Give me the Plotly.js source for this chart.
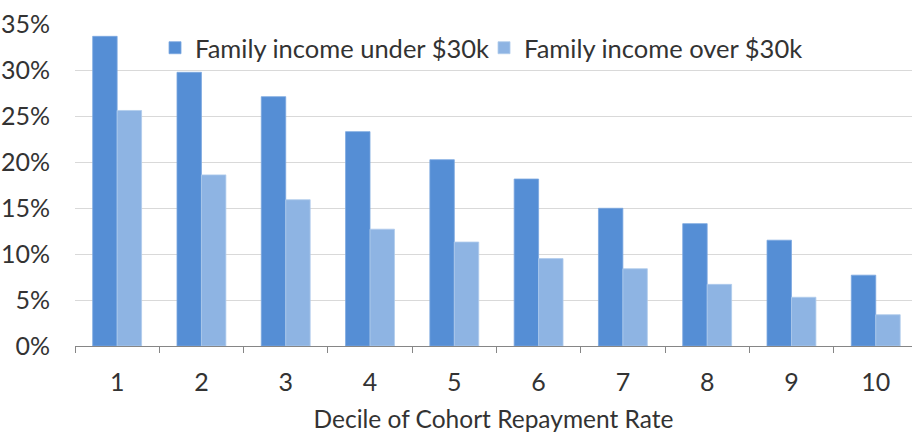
<!DOCTYPE html>
<html><head><meta charset="utf-8">
<script src="https://cdn.plot.ly/plotly-3.0.1.min.js"></script>
<style>html,body{margin:0;padding:0;background:#fff}</style>
</head><body>
<div id="chart" style="width:912px;height:433px"></div>
<script>
const categories = ["1","2","3","4","5","6","7","8","9","10"];
const underLabel = "Family income under $30k";
const overLabel = "Family income over $30k";
const under30k = [0.3366, 0.2975, 0.271, 0.233, 0.2025, 0.1815, 0.1497, 0.133, 0.115, 0.077];
const over30k = [0.256, 0.186, 0.159, 0.127, 0.113, 0.095, 0.084, 0.067, 0.053, 0.034];
const yTicks = [0, 0.05, 0.1, 0.15, 0.2, 0.25, 0.3, 0.35];

const FONT = "Lato, 'Open Sans', sans-serif";
const data = [
  {type:"bar", x:categories, y:under30k, name:underLabel,
   marker:{color:"#558ED5", line:{color:"#7BA7E0", width:0.8}}},
  {type:"bar", x:categories, y:over30k, name:overLabel,
   marker:{color:"#8EB4E3", line:{color:"#B0CBEC", width:0.8}}}
];
const layout = {
  width:912, height:433,
  margin:{l:75, r:0, t:24, b:87},
  paper_bgcolor:"#fff", plot_bgcolor:"#fff",
  font:{family:FONT, color:"#333333", size:26},
  barmode:"group", bargap:0.42, bargroupgap:0,
  showlegend:true,
  legend:{orientation:"h", x:0.0956, xanchor:"left", y:0.925, yanchor:"middle",
          bgcolor:"rgba(0,0,0,0)", font:{size:25.5, color:"#333333"},
          itemwidth:30, tracegroupgap:0, entrywidth:284, entrywidthmode:"pixels"},
  xaxis:{type:"category", range:[-0.5, 9.43], showgrid:false,
         showline:true, linecolor:"#868686", linewidth:1,
         ticks:"outside", tickson:"boundaries", ticklen:6, tickcolor:"#868686",
         tickfont:{size:25, color:"#333333"}, ticklabelstandoff:14,
         title:{text:"Decile of Cohort Repayment Rate", font:{size:24.5, color:"#333333"}, standoff:24},
         fixedrange:true},
  yaxis:{range:[0, 0.35], tickvals:yTicks, tickformat:".0%",
         showgrid:true, gridcolor:"#D9D9D9", gridwidth:1,
         showline:false, zeroline:false, ticks:"",
         tickfont:{size:25, color:"#333333"}, ticklabelstandoff:24, fixedrange:true}
};
Plotly.newPlot("chart", data, layout, {displayModeBar:false, staticPlot:true});
</script>
</body></html>
